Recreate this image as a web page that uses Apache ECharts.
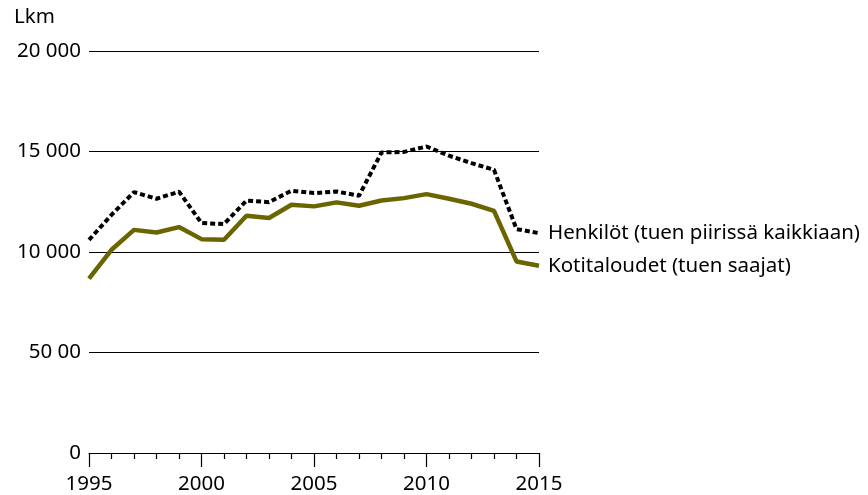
<!DOCTYPE html>
<html>
<head>
<meta charset="utf-8">
<script src="https://cdn.jsdelivr.net/npm/echarts@6/dist/echarts.min.js"></script>
<style>html,body{margin:0;padding:0;background:#fff}#c{width:868px;height:495px}</style>
</head>
<body>
<div id="c"></div>
<script>
const years = [1995,1996,1997,1998,1999,2000,2001,2002,2003,2004,2005,2006,2007,2008,2009,2010,2011,2012,2013,2014,2015];
const henkilot = [10600,11850,12980,12650,13000,11440,11390,12560,12480,13050,12930,13010,12800,14950,14980,15250,14790,14420,14090,11140,10940];
const kotitaloudet = [8670,10110,11100,10970,11240,10640,10610,11800,11690,12350,12270,12470,12300,12560,12680,12880,12650,12400,12050,9530,9320];
const yTickLabels = {0:'0',5000:'50 00',10000:'10 000',15000:'15 000',20000:'20 000'};
const seriesNames = ['Henkilöt (tuen piirissä kaikkiaan)','Kotitaloudet (tuen saajat)'];
const FONT = 'Noto Sans';
const FS = 20.5;

const chart = echarts.init(document.getElementById('c'), null, {renderer:'canvas'});
chart.setOption({
  animation:false,
  backgroundColor:'#fff',
  title:{text:'Lkm',left:14,top:7,padding:0,textStyle:{fontFamily:FONT,fontSize:FS,fontWeight:'normal',color:'#000'}},
  grid:{left:89,right:329,top:51,bottom:42,containLabel:false},
  xAxis:{
    type:'value',min:1995,max:2015,interval:5,
    axisLine:{show:true,lineStyle:{color:'#000',width:1.2}},
    axisTick:{show:true,length:14,lineStyle:{color:'#000',width:1.2}},
    minorTick:{show:true,splitNumber:5,length:6,lineStyle:{color:'#000',width:1.2}},
    splitLine:{show:false},
    axisLabel:{fontFamily:FONT,fontSize:FS,color:'#000',margin:21,formatter:v=>String(v)}
  },
  yAxis:{
    type:'value',min:0,max:20000,interval:5000,
    axisLine:{show:false},axisTick:{show:false},
    splitLine:{show:true,lineStyle:{color:'#000',width:1.2}},
    axisLabel:{fontFamily:FONT,fontSize:FS,color:'#000',margin:8,formatter:v=>yTickLabels[v]}
  },
  series:[
    {name:seriesNames[0],type:'line',data:years.map((y,i)=>[y,henkilot[i]]),symbol:'none',
     lineStyle:{color:'#000',width:4,type:[5,3]},
     endLabel:{show:true,formatter:seriesNames[0],fontFamily:FONT,fontSize:FS,color:'#000',distance:9,offset:[0,0]}},
    {name:seriesNames[1],type:'line',data:years.map((y,i)=>[y,kotitaloudet[i]]),symbol:'none',
     lineStyle:{color:'#6b6500',width:4.5},
     endLabel:{show:true,formatter:seriesNames[1],fontFamily:FONT,fontSize:FS,color:'#000',distance:9,offset:[0,0]}}
  ]
});
</script>
</body>
</html>
